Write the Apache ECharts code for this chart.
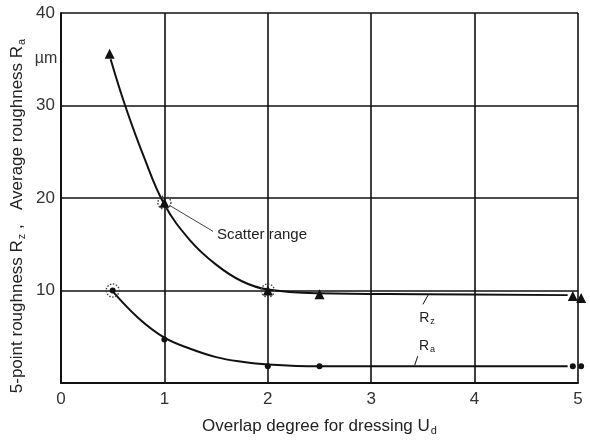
<!DOCTYPE html>
<html>
<head>
<meta charset="utf-8">
<script src="https://cdn.jsdelivr.net/npm/echarts@6/dist/echarts.min.js"></script>
<style>
  html, body { margin: 0; padding: 0; background: #fff; }
  #chart { width: 590px; height: 441px; }
</style>
</head>
<body>
<div id="chart"></div>
<script>
// measured points (x = overlap degree U_d)
const rzPoints = [[0.47, 35.6], [1.0, 19.5], [2.0, 10.0], [2.5, 9.6], [4.95, 9.4], [5.03, 9.2]]
const raPoints = [[0.5, 10.0], [1.0, 4.7], [2.0, 1.8], [2.5, 1.8], [4.95, 1.8], [5.03, 1.8]]
// points drawn with the dotted "scatter range" ring
const scatterRange = [[0.5, 10.0], [1.0, 19.5], [2.0, 10.0]]

// hand-drawn trend curves
const rzCurve = [[0.48, 35.0], [0.62, 30], [0.8, 24.5], [1.0, 19.3], [1.25, 15.4], [1.5, 12.8], [1.75, 11.0], [2.0, 10.1], [2.5, 9.7], [3.5, 9.6], [4.9, 9.5]]
const raCurve = [[0.5, 9.9], [0.75, 7.0], [1.0, 4.9], [1.25, 3.7], [1.5, 2.8], [1.75, 2.3], [2.0, 2.0], [2.5, 1.8], [4.9, 1.8]]

const xTicks = [0, 1, 2, 3, 4, 5]
const yTicks = [10, 20, 30, 40]

// annotation leaders
const scatterLeader = [[1.05, 19.2], [1.47, 16.4]]
const rzLeader = [[3.55, 9.5], [3.5, 8.5]]
const raLeader = [[3.45, 2.9], [3.42, 1.9]]

const font = 'Liberation Sans'
const ink = '#111'

const chart = echarts.init(document.getElementById('chart'))

const leader = (pts, w) => ({
    type: 'line',
    data: pts,
    symbol: 'none',
    silent: true,
    lineStyle: {color: ink, width: w},
    z: 3
})

const option = {
    animation: false,
    backgroundColor: '#fff',
    grid: {left: 61, right: 12, top: 13, bottom: 57, containLabel: false},
    xAxis: {
        type: 'value',
        min: 0,
        max: 5,
        interval: 1,
        name: 'Overlap degree for dressing {s|U}{sub|d}',
        nameLocation: 'middle',
        nameGap: 33,
        nameTextStyle: {
            fontFamily: font, fontSize: 17, color: '#222',
            rich: {
                s: {fontFamily: font, fontSize: 17, color: '#222'},
                sub: {fontFamily: font, fontSize: 11, color: '#222', padding: [9, 0, 0, 1]}
            }
        },
        axisLine: {show: true, onZero: false, lineStyle: {color: ink, width: 2}},
        axisTick: {show: false},
        axisLabel: {
            fontFamily: font, fontSize: 17, color: '#333', margin: 8,
            formatter: v => xTicks.includes(v) ? String(v) : ''
        },
        splitLine: {show: true, lineStyle: {color: ink, width: 1.6}}
    },
    yAxis: {
        type: 'value',
        min: 0,
        max: 40,
        interval: 10,
        axisLine: {show: true, onZero: false, lineStyle: {color: ink, width: 2}},
        axisTick: {show: false},
        axisLabel: {
            fontFamily: font, fontSize: 17, color: '#333', margin: 6,
            formatter: v => yTicks.includes(v) ? String(v) : ''
        },
        splitLine: {show: true, lineStyle: {color: ink, width: 1.6}}
    },
    graphic: [
        {
            type: 'text',
            x: 17,
            y: 216,
            rotation: Math.PI / 2,
            style: {
                text: '5-point roughness {s|R}{sub|z} ,   Average roughness {s|R}{sub|a}',
                fontFamily: font,
                fontSize: 17,
                fill: '#222',
                align: 'center',
                verticalAlign: 'middle',
                rich: {
                    s: {fontFamily: font, fontSize: 17, fill: '#222'},
                    sub: {fontFamily: font, fontSize: 11, fill: '#222', padding: [9, 0, 0, 1]}
                }
            }
        },
        {
            type: 'text', x: 46, y: 59,
            style: {text: 'µm', fontFamily: font, fontSize: 16, fill: '#333', align: 'center', verticalAlign: 'middle'}
        },
        {
            type: 'text', x: 217, y: 235,
            style: {text: 'Scatter range', fontFamily: font, fontSize: 15, fill: '#222', align: 'left', verticalAlign: 'middle'}
        },
        {
            type: 'text', x: 427, y: 318,
            style: {
                text: '{s|R}{sub|z}', align: 'center', verticalAlign: 'middle',
                rich: {
                    s: {fontFamily: font, fontSize: 14, fill: '#222'},
                    sub: {fontFamily: font, fontSize: 9, fill: '#222', padding: [7, 0, 0, 1]}
                }
            }
        },
        {
            type: 'text', x: 427, y: 346,
            style: {
                text: '{s|R}{sub|a}', align: 'center', verticalAlign: 'middle',
                rich: {
                    s: {fontFamily: font, fontSize: 14, fill: '#222'},
                    sub: {fontFamily: font, fontSize: 9, fill: '#222', padding: [7, 0, 0, 1]}
                }
            }
        }
    ],
    series: [
        {
            name: 'Rz curve',
            type: 'line',
            data: rzCurve,
            smooth: 0.4,
            symbol: 'none',
            lineStyle: {color: ink, width: 2},
            z: 3
        },
        {
            name: 'Ra curve',
            type: 'line',
            data: raCurve,
            smooth: 0.4,
            symbol: 'none',
            lineStyle: {color: ink, width: 2},
            z: 3
        },
        {
            name: 'Rz',
            type: 'scatter',
            data: rzPoints,
            symbol: 'triangle',
            symbolSize: 10,
            clip: false,
            itemStyle: {color: ink, opacity: 1},
            z: 5
        },
        {
            name: 'Ra',
            type: 'scatter',
            data: raPoints,
            symbol: 'circle',
            symbolSize: 6,
            clip: false,
            itemStyle: {color: ink, opacity: 1},
            z: 5
        },
        {
            name: 'Scatter range',
            type: 'scatter',
            data: scatterRange,
            symbol: 'circle',
            symbolSize: 13,
            clip: false,
            itemStyle: {color: 'rgba(0,0,0,0)', opacity: 1, borderColor: '#444', borderWidth: 1.4, borderType: [1.5, 1.5]},
            z: 4
        },
        leader(scatterLeader, 0.8),
        leader(rzLeader, 1),
        leader(raLeader, 1)
    ]
}

chart.setOption(option)
</script>
</body>
</html>
